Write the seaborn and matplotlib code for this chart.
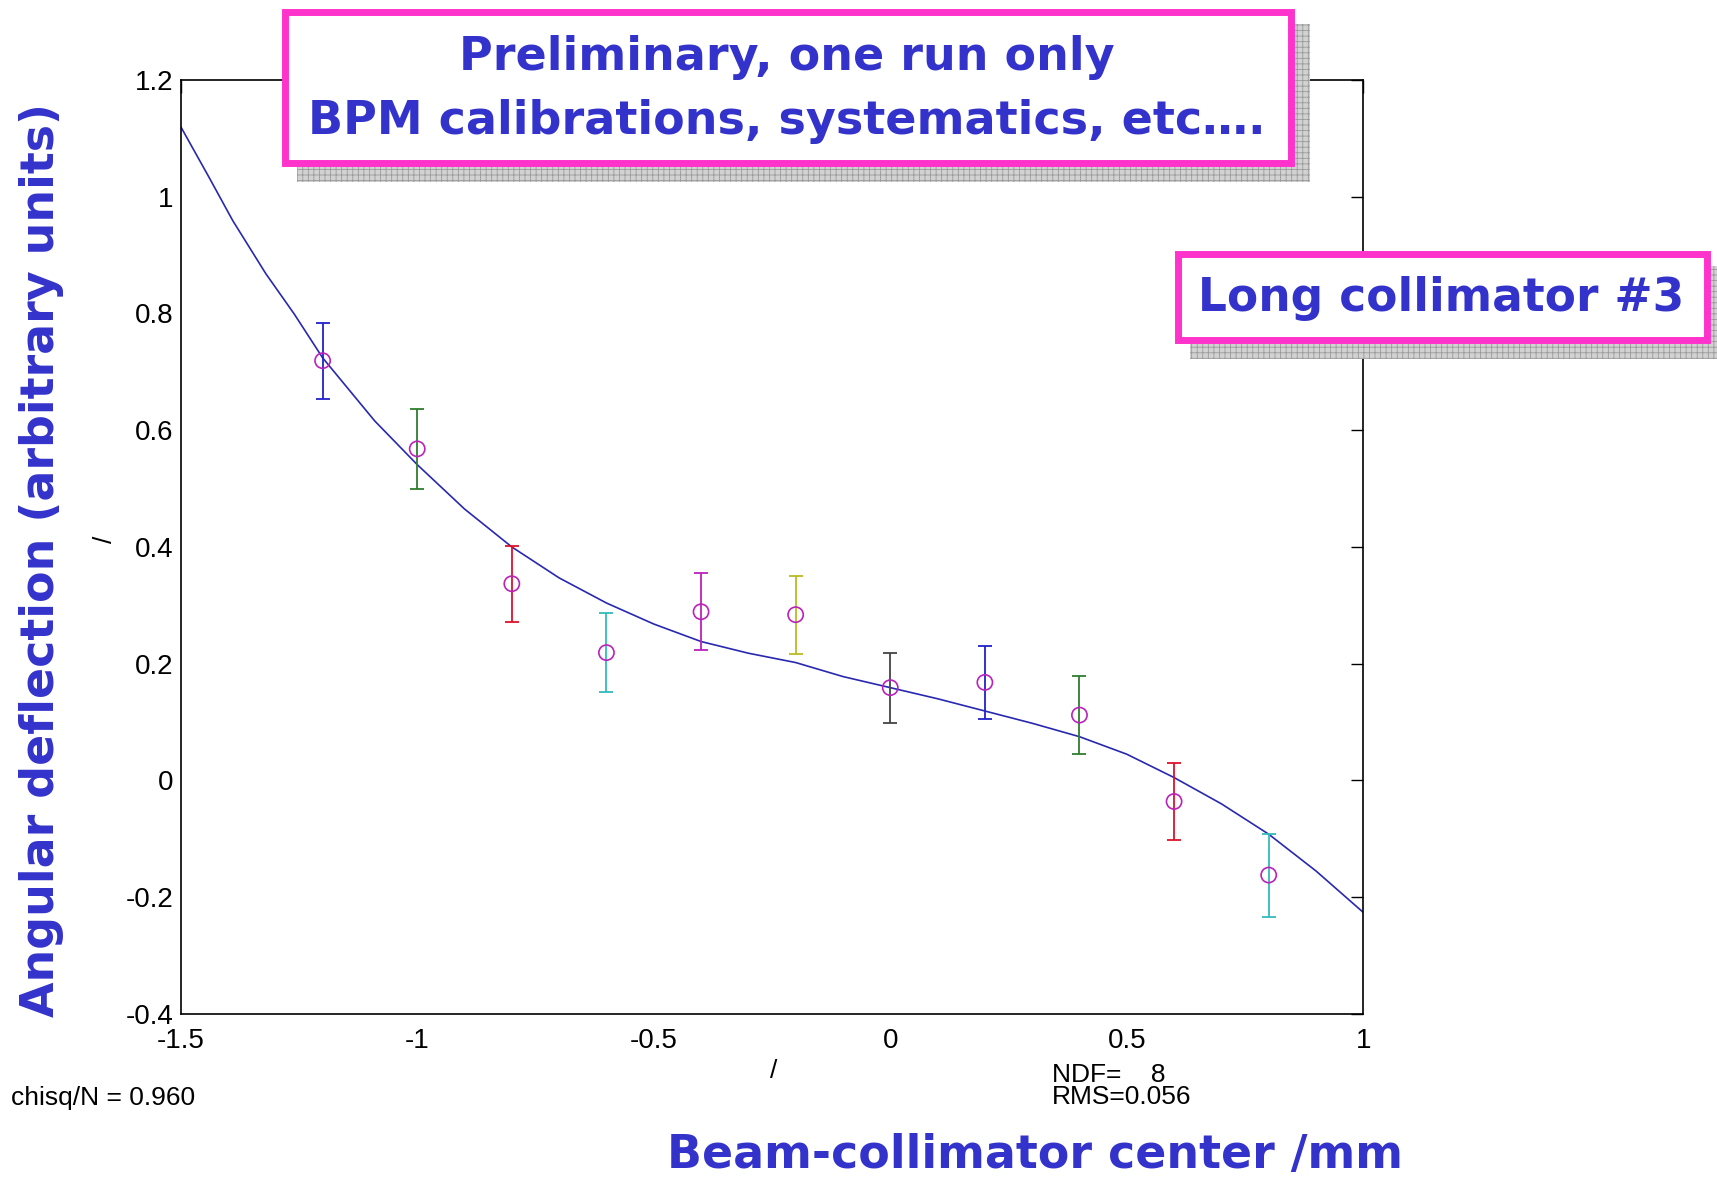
import numpy as np
import pandas as pd
import matplotlib
matplotlib.use("Agg")
import matplotlib.pyplot as plt
import seaborn as sns
from matplotlib.patches import Rectangle

# ---------------- data ----------------
x_points = [-1.2, -1.0, -0.8, -0.6, -0.4, -0.2, 0.0, 0.2, 0.4, 0.6, 0.8]
y_points = [0.719, 0.568, 0.337, 0.219, 0.289, 0.284, 0.159, 0.168, 0.112, -0.036, -0.162]
y_err = [0.065, 0.069, 0.065, 0.068, 0.066, 0.067, 0.060, 0.062, 0.067, 0.066, 0.071]
bar_colors = ["#2222CC", "#2E7D2E", "#E0102A", "#33BBBB", "#BB22BB", "#BBBB22",
              "#444444", "#2222CC", "#2E7D2E", "#E0102A", "#33BBBB"]

fit_x = [-1.5, -1.44, -1.39, -1.32, -1.26, -1.2, -1.09, -1.0, -0.9, -0.8, -0.7,
         -0.6, -0.5, -0.4, -0.3, -0.2, -0.1, 0.0, 0.1, 0.2, 0.3, 0.4, 0.5, 0.55,
         0.6, 0.7, 0.8, 0.9, 1.0]
fit_y = [1.120, 1.033, 0.959, 0.868, 0.799, 0.724, 0.616, 0.541, 0.465, 0.400, 0.347,
         0.304, 0.268, 0.238, 0.218, 0.202, 0.178, 0.159, 0.140, 0.119, 0.098, 0.075,
         0.045, 0.025, 0.005, -0.040, -0.092, -0.155, -0.226]

x_ticks = [-1.5, -1, -0.5, 0, 0.5, 1]
x_tick_labels = ["-1.5", "-1", "-0.5", "0", "0.5", "1"]
y_ticks = [-0.4, -0.2, 0, 0.2, 0.4, 0.6, 0.8, 1.0, 1.2]
y_tick_labels = ["-0.4", "-0.2", "0", "0.2", "0.4", "0.6", "0.8", "1", "1.2"]

title_lines = ["Preliminary, one run only", "BPM calibrations, systematics, etc…."]
box2_text = "Long collimator #3"
y_label = "Angular deflection (arbitrary units)"
x_label = "Beam-collimator center /mm"
stat_left = "chisq/N = 0.960"
stat_right = "NDF=    8\nRMS=0.056"

# ---------------- style ----------------
sns.set_style("white")
plt.rcParams["font.family"] = ["Liberation Sans", "DejaVu Sans"]
plt.rcParams["hatch.linewidth"] = 0.6
plt.rcParams["text.color"] = "black"

W, H = 1717, 1178
fig = plt.figure(figsize=(W / 100, H / 100), dpi=100)
fig.patch.set_facecolor("white")


def fx(px):
    return px / W


def fy(py):
    return 1 - py / H


ax = fig.add_axes([fx(180.7), fy(1014), fx(1363.3) - fx(180.7), fy(79.9) - fy(1014)])

fit_df = pd.DataFrame({"x": fit_x, "y": fit_y})
pts_df = pd.DataFrame({"x": x_points, "y": y_points})

sns.lineplot(data=fit_df, x="x", y="y", ax=ax, color="#2828B0", lw=1.2, sort=False)
for xv, yv, ev, c in zip(x_points, y_points, y_err, bar_colors):
    ax.errorbar([xv], [yv], yerr=[ev], fmt="none", ecolor=c, elinewidth=1.3,
                capsize=5, capthick=1.3)
sns.scatterplot(data=pts_df, x="x", y="y", ax=ax, marker="o", s=120,
                facecolors="none", edgecolor="#BB22BB", linewidth=1.2, zorder=5)

ax.set_xlim(-1.5, 1.0)
ax.set_ylim(-0.4, 1.2)
ax.set_xticks(x_ticks)
ax.set_xticklabels(x_tick_labels)
ax.set_yticks(y_ticks)
ax.set_yticklabels(y_tick_labels)
ax.set_xlabel("")
ax.set_ylabel("")
ax.tick_params(direction="in", length=9, width=1, top=True, right=True,
               labelsize=20, colors="black")
ax.tick_params(axis="x", pad=10)
ax.tick_params(axis="y", pad=5)
for s in ax.spines.values():
    s.set_visible(True)
    s.set_color("black")
    s.set_linewidth(1.2)

# small stray labels and fit statistics
fig.text(fx(105), fy(539), "/", rotation=90, fontsize=19, ha="center", va="center",
         color="black")
fig.text(fx(774), fy(1071), "/", fontsize=19, ha="center", va="center", color="black")
fig.text(fx(11), fy(1098), stat_left, fontsize=19, ha="left", va="center", color="black")
fig.text(fx(1052), fy(1086), stat_right, fontsize=19, ha="left", va="center",
         linespacing=0.85, color="black")

# ---------------- boxes ----------------
blue = "#3333CC"
pink = "#FF33CC"


def add_box(x0, y0, x1, y1, off=16):
    shadow = Rectangle((fx(x0 + off), fy(y1 + off)), fx(x1 - x0), (y1 - y0) / H,
                       transform=fig.transFigure, facecolor="#d2d2d2",
                       edgecolor="#9a9a9a", hatch="+++", lw=0, zorder=2)
    fig.add_artist(shadow)
    box = Rectangle((fx(x0 + 3.5), fy(y1 - 3.5)), fx(x1 - x0 - 7), (y1 - y0 - 7) / H,
                    transform=fig.transFigure, facecolor="white",
                    edgecolor=pink, lw=5, zorder=3)
    fig.add_artist(box)


add_box(281, 8, 1294, 166)
add_box(1174, 250, 1710, 343)

renderer = fig.canvas.get_renderer()


def fit_width(t, target, use_height=False):
    bb = t.get_window_extent(renderer)
    cur = bb.height if use_height else bb.width
    t.set_fontsize(t.get_fontsize() * target / cur)
    return t.get_fontsize()


big = dict(color=blue, fontweight="bold", family=["DejaVu Sans"], zorder=4)
t2 = fig.text(fx(787), fy(122), title_lines[1], ha="center", va="center",
              fontsize=30, **big)
size = fit_width(t2, 955)
t1 = fig.text(fx(787), fy(57), title_lines[0], ha="center", va="center",
              fontsize=size, **big)
t3 = fig.text(fx(1441), fy(298), box2_text, ha="center", va="center",
              fontsize=30, **big)
fit_width(t3, 485)
tx = fig.text(fx(1035), fy(1156), x_label, ha="center", va="center",
              fontsize=30, **big)
fit_width(tx, 734)
ty = fig.text(fx(42), fy(560), y_label, ha="center", va="center", rotation=90,
              fontsize=30, **big)
fit_width(ty, 912, use_height=True)

fig.savefig("out.png", dpi=100, facecolor="white")
